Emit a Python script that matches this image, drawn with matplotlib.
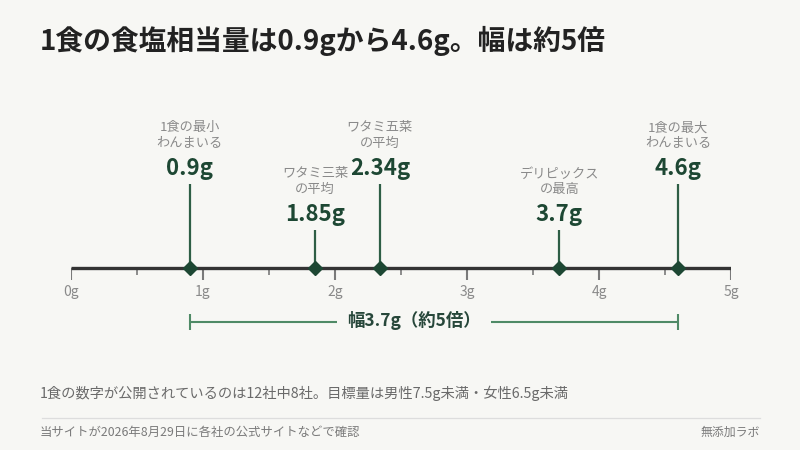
import matplotlib
matplotlib.use('Agg')
import matplotlib.pyplot as plt

plt.rcParams['font.family'] = ['Noto Sans CJK JP', 'DejaVu Sans']

# ---- data ----
values = [0.9, 1.85, 2.34, 3.7, 4.6]
value_labels = ['0.9g', '1.85g', '2.34g', '3.7g', '4.6g']
categories = ['1食の最小\nわんまいる', 'ワタミ三菜\nの平均', 'ワタミ五菜\nの平均',
              'デリピックス\nの最高', '1食の最大\nわんまいる']
tiers = ['high', 'low', 'high', 'low', 'high']
major_ticks = [0, 1, 2, 3, 4, 5]
tick_labels = ['0g', '1g', '2g', '3g', '4g', '5g']
minor_ticks = [0.5, 1.5, 2.5, 3.5, 4.5]
range_lo, range_hi = 0.9, 4.6
range_label = '幅3.7g（約5倍）'
range_label_x = 2.6

title = '1食の食塩相当量は0.9gから4.6g。幅は約5倍'
note = '1食の数字が公開されているのは12社中8社。目標量は男性7.5g未満・女性6.5g未満'
source = '当サイトが2026年8月29日に各社の公式サイトなどで確認'
brand = '無添加ラボ'

BG = '#f7f7f4'
DARK = '#333333'
GREEN_DARK = '#1d4733'
GREEN_STEM = '#2e5e45'
GREEN_BR = '#4f8a66'
GREY = '#8a8a8a'

W, H = 800, 450
fig = plt.figure(figsize=(8, 4.5), dpi=100, facecolor=BG)

# axes: x in grams, y in pixel rows (top = 0)
ax = fig.add_axes([71 / W, 0, (731 - 71) / W, 1])
ax.set_xlim(0, 5)
ax.set_ylim(H, 0)
ax.axis('off')
ax.set_facecolor(BG)

AXIS_Y = 268
tops = {'high': 184, 'low': 230}

# stems
for v, t in zip(values, tiers):
    ax.vlines(v, AXIS_Y, tops[t], color=GREEN_STEM, lw=1.6, zorder=2)

# ticks
ax.vlines(major_ticks, AXIS_Y, AXIS_Y + 12, color='#7a7a7a', lw=1.5, zorder=1)
ax.vlines(minor_ticks, AXIS_Y, AXIS_Y + 7, color='#7a7a7a', lw=1.2, zorder=1)
# axis line
ax.hlines(AXIS_Y, 0, 5, color=DARK, lw=2.4, zorder=3)
for tk, lb in zip(major_ticks, tick_labels):
    ax.text(tk, 292, lb, ha='center', va='center', fontsize=10, color=GREY)

# markers
ax.plot(values, [AXIS_Y] * len(values), linestyle='none', marker='D',
        ms=7.5, color=GREEN_DARK, zorder=4)

# labels
for v, vl, cat, t in zip(values, value_labels, categories, tiers):
    top = tops[t]
    ax.text(v, top - 15, vl, ha='center', va='center', fontsize=16,
            fontweight='bold', color=GREEN_DARK)
    lines = cat.split('\n')
    for i, ln in enumerate(lines):
        ax.text(v, top - 56 + 15 * i, ln, ha='center', va='center',
                fontsize=9.5, color=GREY)

# range bracket
BR_Y = 322
ax.hlines(BR_Y, range_lo, range_hi, color=GREEN_BR, lw=1.5)
ax.vlines([range_lo, range_hi], BR_Y - 8, BR_Y + 8, color=GREEN_BR, lw=1.5)
ax.text(range_label_x, BR_Y - 1, range_label, ha='center', va='center',
        fontsize=12.5, fontweight='bold', color='#27473a',
        bbox=dict(boxstyle='square,pad=0.6', facecolor=BG, edgecolor='none'))

# title and footnotes
fig.text(40 / W, 1 - 41 / H, title, ha='left', va='center', fontsize=20,
         fontweight='bold', color='#222222')
fig.text(40 / W, 1 - 393 / H, note, ha='left', va='center', fontsize=10.3,
         color='#6a6a6a')
fig.add_artist(plt.Line2D([42 / W, 760 / W], [1 - 418 / H, 1 - 418 / H],
                          color='#dddddd', lw=0.9))
fig.text(40 / W, 1 - 432 / H, source, ha='left', va='center', fontsize=8.9,
         color='#7a7a7a')
fig.text(760 / W, 1 - 432 / H, brand, ha='right', va='center', fontsize=8.6,
         color='#7a7a7a')

fig.savefig('out.png', dpi=100, facecolor=BG)
